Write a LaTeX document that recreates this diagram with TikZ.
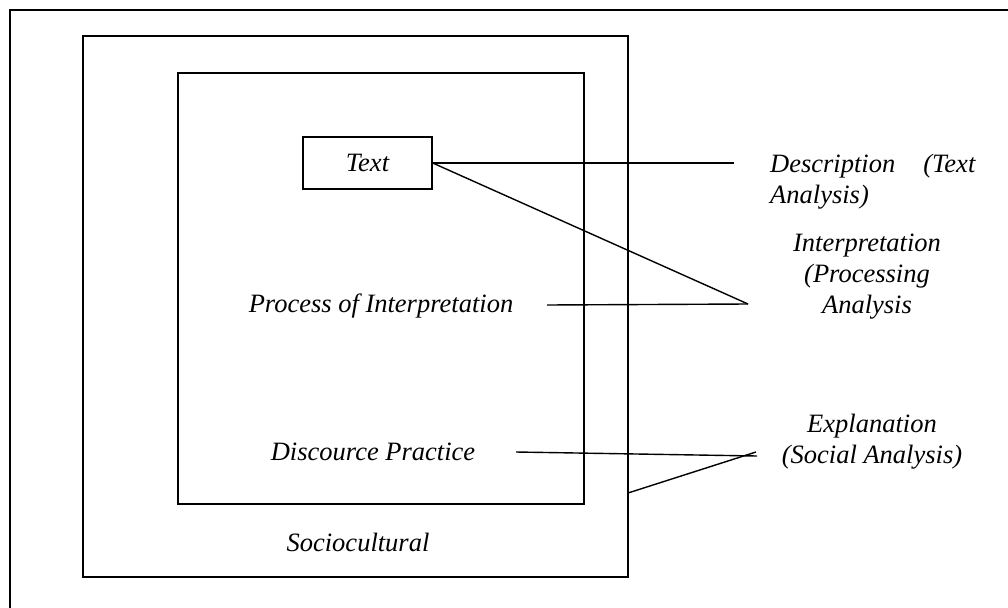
\documentclass[tikz,border=0pt]{standalone}
\usepackage{fontspec}
\setmainfont{Liberation Serif}
\begin{document}
\begin{tikzpicture}[x=1pt,y=-1pt,
  frame/.style={line width=1.6pt},
  conn/.style={line width=1.4pt},
  lbl/.style={font=\fontsize{26.5}{31}\selectfont\itshape, inner sep=0pt, anchor=base},
  boxlbl/.style={draw, line width=1.4pt, minimum width=129pt, minimum height=52pt, inner sep=0pt, font=\fontsize{26.5}{31}\selectfont\itshape}
]
\useasboundingbox (0,0) rectangle (1008,607);
% outer frame (cut off at right and bottom)
\draw[frame] (10,620) -- (10,10) -- (1020,10);
% sociocultural box
\draw[frame] (83,36) rectangle (628,577);
% inner box
\draw[frame] (178,73) rectangle (584,504);

\node[boxlbl] (text) at (367.5,163) {Text};
\node[lbl] (proc) at (381,312) {Process of Interpretation};
\node[lbl] (disc) at (373,460) {Discource Practice};
\node[lbl] (socio) at (358,551) {Sociocultural};

\node[lbl, anchor=base west] (desc1) at (770,172) {Description\hspace{28pt}(Text};
\node[lbl, anchor=base west] (desc2) at (770,203) {Analysis)};
\node[lbl] (int1) at (867,251) {Interpretation};
\node[lbl] (int2) at (867,282) {(Processing};
\node[lbl] (int3) at (867,313) {Analysis};
\node[lbl] (exp1) at (872,432) {Explanation};
\node[lbl] (exp2) at (872,463) {(Social Analysis)};

\coordinate (descEnd) at (734,163);
\coordinate (intEnd) at (748,304);
\coordinate (procStart) at (547,305);
\coordinate (discStart) at (516,452);
\coordinate (discEnd) at (757,456);
\coordinate (expEnd) at (756,452);
\coordinate (socioEdge) at (628,493);

\draw[conn] (text.east) -- (descEnd);
\draw[conn] (text.east) -- (intEnd);
\draw[conn] (procStart) -- (intEnd);
\draw[conn] (discStart) -- (discEnd);
\draw[conn] (socioEdge) -- (expEnd);
\end{tikzpicture}
\end{document}
